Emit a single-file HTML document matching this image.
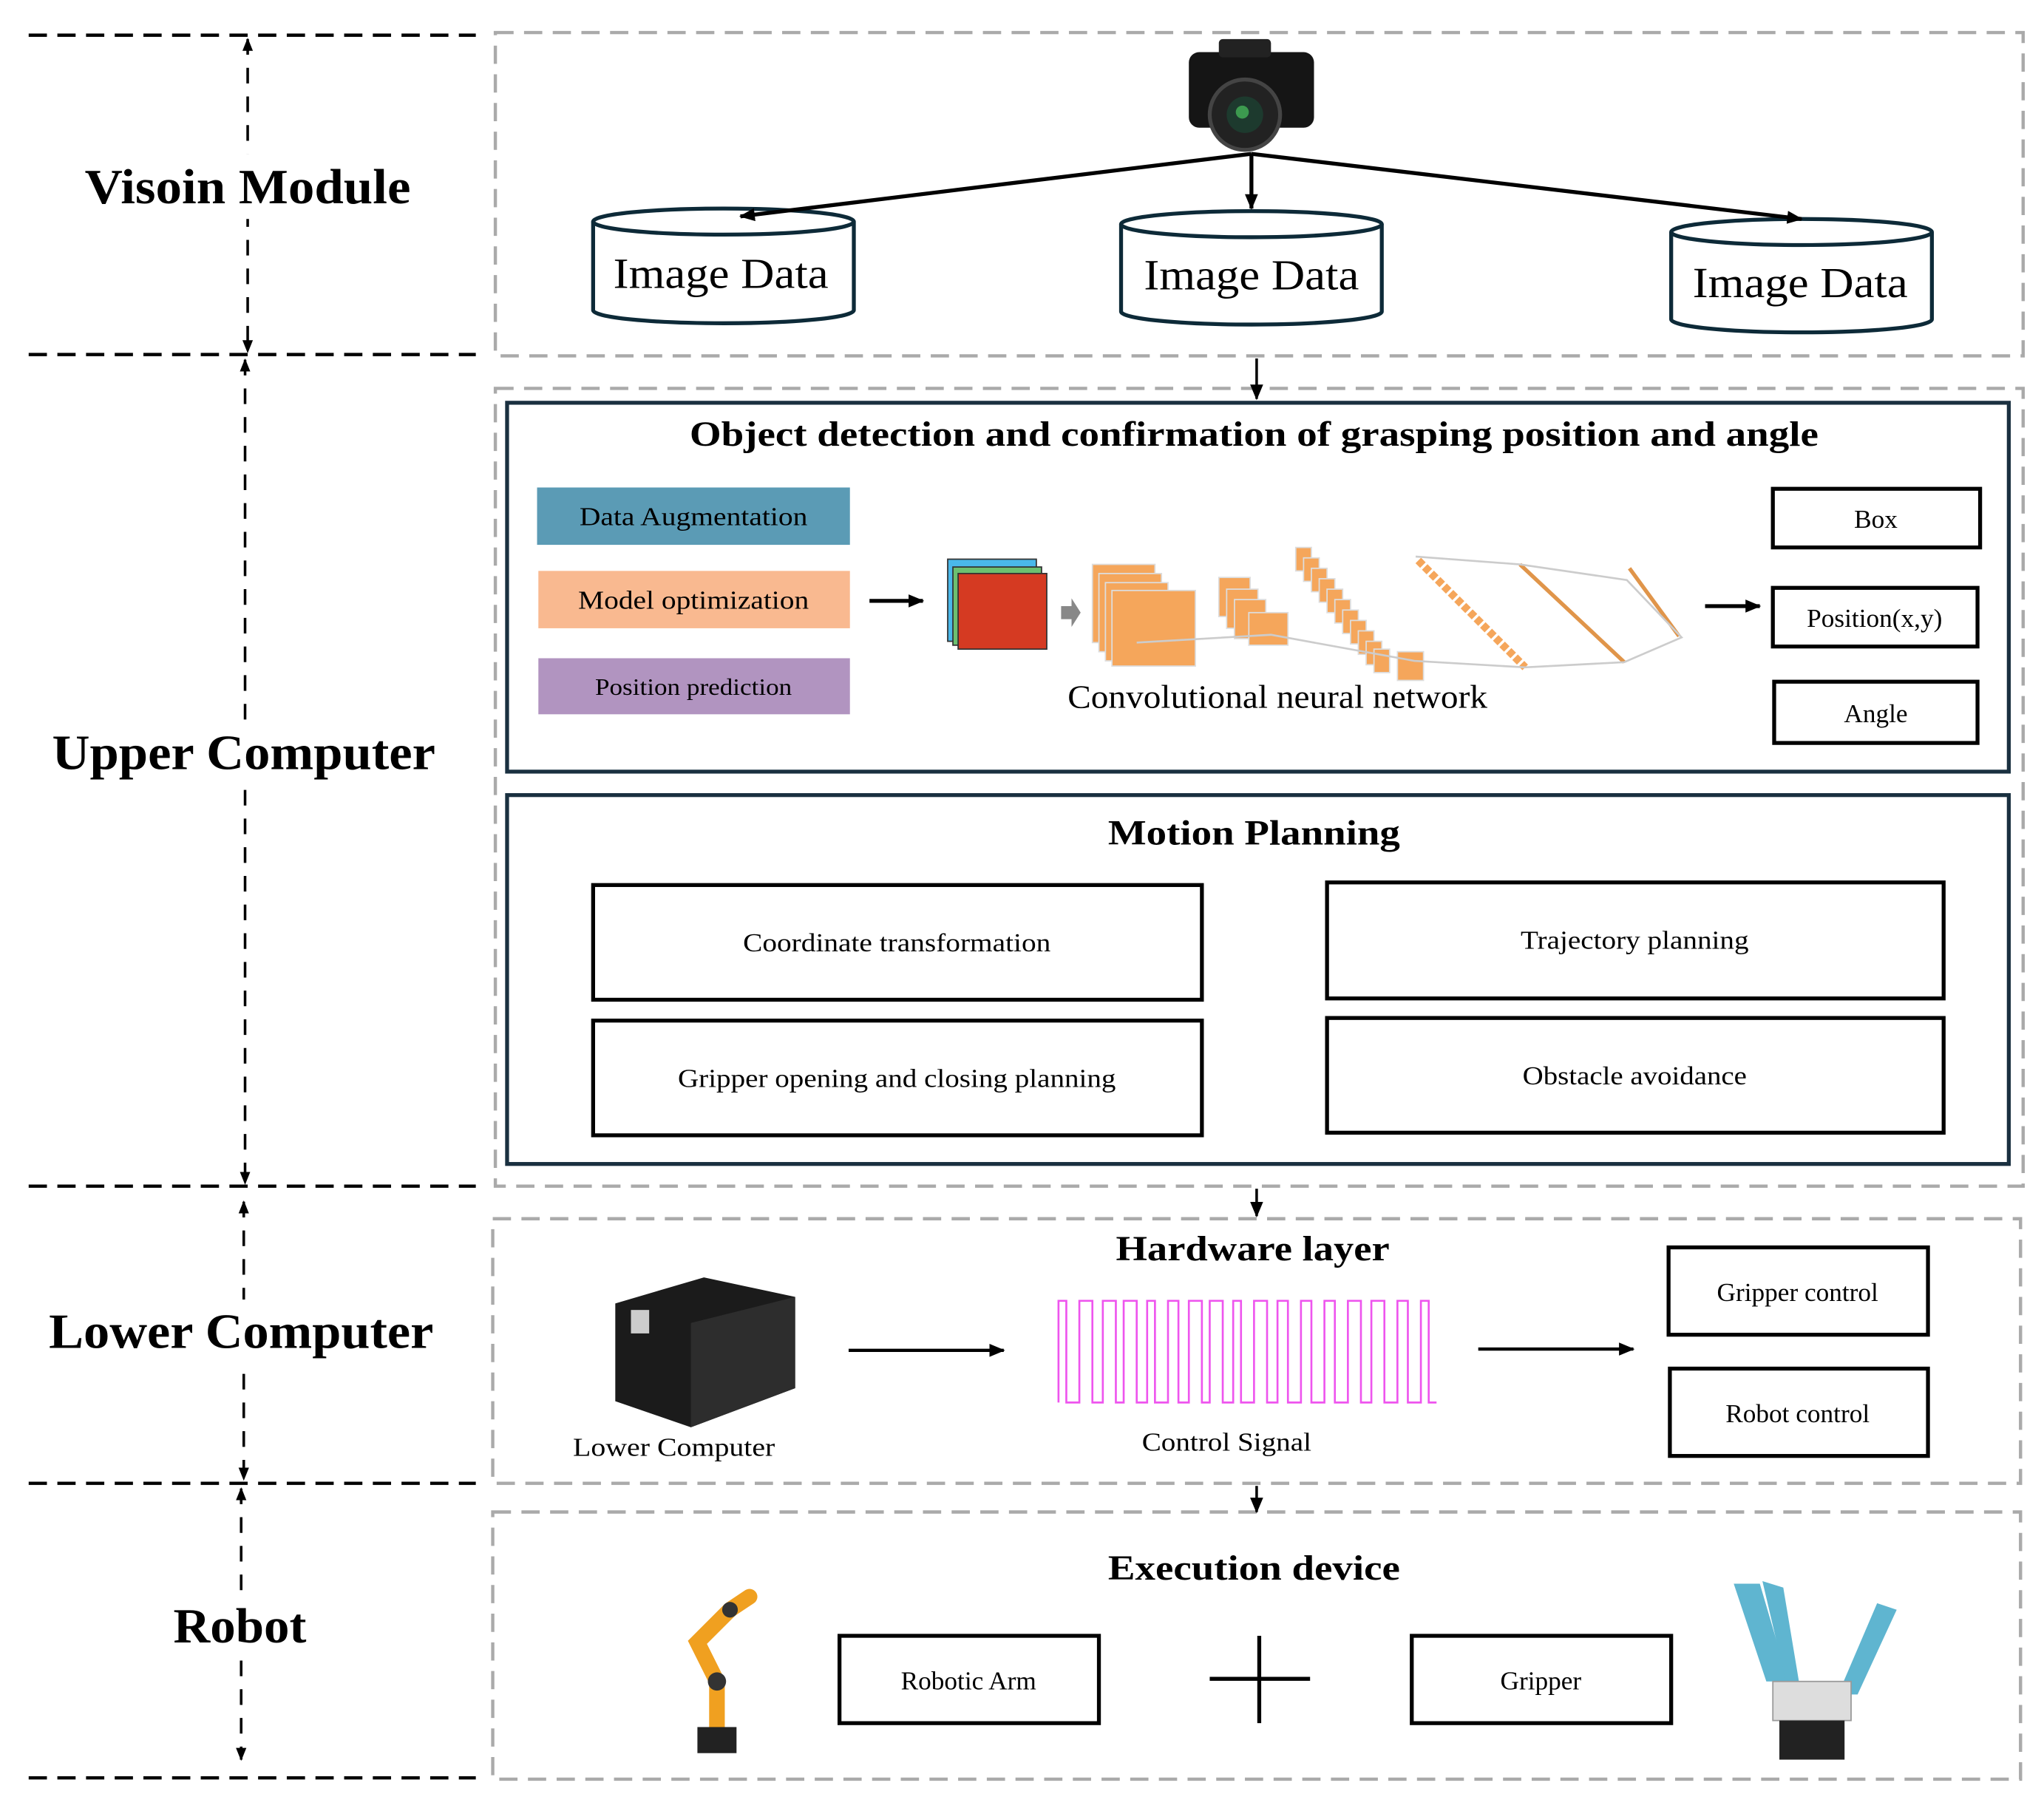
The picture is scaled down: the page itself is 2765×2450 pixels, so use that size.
<!DOCTYPE html>
<html><head><meta charset="utf-8"><style>html,body{margin:0;padding:0;background:#fff}svg{display:block}</style></head>
<body>
<svg width="2765" height="2450" viewBox="0 0 1568 1389.4" preserveAspectRatio="none" xmlns="http://www.w3.org/2000/svg" font-family="Liberation Serif, serif">
<defs>
<marker id="a" markerWidth="10" markerHeight="10" refX="9" refY="5" orient="auto-start-reverse" markerUnits="userSpaceOnUse"><path d="M0,1 L10,5 L0,9 z" fill="#000"/></marker>
<marker id="b" markerWidth="12" markerHeight="12" refX="11" refY="6" orient="auto" markerUnits="userSpaceOnUse"><path d="M0,1 L12,6 L0,11 z" fill="#000"/></marker>
</defs>
<g stroke="#000" stroke-width="2.5" stroke-dasharray="14,8">
<line x1="22" y1="27" x2="365" y2="27"/><line x1="22" y1="272" x2="365" y2="272"/>
<line x1="22" y1="910" x2="365" y2="910"/><line x1="22" y1="1138" x2="365" y2="1138"/>
<line x1="22" y1="1364" x2="365" y2="1364"/>
</g>
<g stroke="#000" stroke-width="2" stroke-dasharray="12,10" marker-start="url(#a)" marker-end="url(#a)">
<line x1="190" y1="30" x2="190" y2="270"/>
<line x1="188" y1="276" x2="188" y2="908"/>
<line x1="187" y1="922" x2="187" y2="1135"/>
<line x1="185" y1="1142" x2="185" y2="1350"/>
</g>
<g fill="#fff">
<rect x="60" y="118" width="260" height="50"/>
<rect x="36" y="553" width="302" height="50"/>
<rect x="34" y="997" width="302" height="50"/>
<rect x="128" y="1223" width="112" height="50"/>
</g>
<g font-weight="bold" font-size="38" text-anchor="middle">
<text x="190" y="156" textLength="250" lengthAdjust="spacingAndGlyphs">Visoin Module</text>
<text x="187" y="590" textLength="294" lengthAdjust="spacingAndGlyphs">Upper Computer</text>
<text x="185" y="1034" textLength="295" lengthAdjust="spacingAndGlyphs">Lower Computer</text>
<text x="184" y="1260" textLength="102" lengthAdjust="spacingAndGlyphs">Robot</text>
</g>
<g fill="none" stroke="#aaa" stroke-width="2.5" stroke-dasharray="14,8">
<rect x="380" y="25" width="1172" height="248"/>
<rect x="380" y="298" width="1172" height="612"/>
<rect x="378" y="935" width="1172" height="203"/>
<rect x="378" y="1160" width="1172" height="205"/>
</g>
<g stroke="#000" stroke-width="2" marker-end="url(#b)">
<line x1="964" y1="275" x2="964" y2="306"/>
<line x1="964" y1="912" x2="964" y2="933"/>
<line x1="964" y1="1140" x2="964" y2="1160"/>
</g>
<g>
<rect x="912" y="40" width="96" height="58" rx="8" fill="#151515"/>
<rect x="935" y="30" width="40" height="14" rx="3" fill="#222"/>
<circle cx="955" cy="88" r="27" fill="#222" stroke="#444" stroke-width="3"/>
<circle cx="955" cy="88" r="14" fill="#1d3a2e"/>
<circle cx="953" cy="86" r="5" fill="#3c9a4f"/>
</g>
<g fill="#fff" stroke="#0d2a38" stroke-width="3">
<path d="M455,170 L455,238 A100,10 0 0 0 655,238 L655,170"/><ellipse cx="555" cy="170" rx="100" ry="10"/>
<path d="M860,172 L860,239 A100,10 0 0 0 1060,239 L1060,172"/><ellipse cx="960" cy="172" rx="100" ry="10"/>
<path d="M1282,178 L1282,245 A100,10 0 0 0 1482,245 L1482,178"/><ellipse cx="1382" cy="178" rx="100" ry="10"/>
</g>
<g stroke="#000" stroke-width="3" marker-end="url(#b)">
<line x1="960" y1="118" x2="568" y2="166"/>
<line x1="960" y1="118" x2="960" y2="160"/>
<line x1="960" y1="118" x2="1382" y2="168"/>
</g>
<g font-size="33" text-anchor="middle">
<text x="553" y="221" textLength="165" lengthAdjust="spacingAndGlyphs">Image Data</text><text x="960" y="222" textLength="165" lengthAdjust="spacingAndGlyphs">Image Data</text><text x="1381" y="228" textLength="165" lengthAdjust="spacingAndGlyphs">Image Data</text>
</g>
<rect x="389" y="309" width="1152" height="283" fill="none" stroke="#1a3040" stroke-width="3"/>
<text x="962" y="342" font-size="27" font-weight="bold" text-anchor="middle" textLength="866" lengthAdjust="spacingAndGlyphs">Object detection and confirmation of grasping position and angle</text>
<rect x="412" y="374" width="240" height="44" fill="#5b9bb5"/>
<rect x="413" y="438" width="239" height="44" fill="#f9b990"/>
<rect x="413" y="505" width="239" height="43" fill="#b194c0"/>
<g font-size="20" text-anchor="middle">
<text x="532" y="403" textLength="175" lengthAdjust="spacingAndGlyphs">Data Augmentation</text>
<text x="532" y="467" textLength="177" lengthAdjust="spacingAndGlyphs">Model optimization</text>
<text x="532" y="533" font-size="18" textLength="151" lengthAdjust="spacingAndGlyphs">Position prediction</text>
</g>
<g stroke="#000" stroke-width="3" marker-end="url(#b)">
<line x1="667" y1="461" x2="708" y2="461"/>
<line x1="1308" y1="465" x2="1350" y2="465"/>
</g>
<rect x="727" y="429" width="68" height="63" fill="#4ab8ea" stroke="#333" stroke-width="1"/>
<rect x="731" y="435" width="68" height="60" fill="#6cc070" stroke="#333" stroke-width="1"/>
<rect x="735" y="440" width="68" height="58" fill="#d53a22" stroke="#333" stroke-width="1"/>
<path d="M814,465 l8,0 0,-6 7,11 -7,11 0,-6 -8,0z" fill="#888"/>
<g fill="#f5a65b" stroke="#ddd" stroke-width="1">
<rect x="838" y="433" width="48" height="60"/><rect x="843" y="440" width="48" height="60"/><rect x="848" y="447" width="48" height="60"/><rect x="853" y="453" width="64" height="58"/>
<rect x="935" y="443" width="24" height="30"/><rect x="941" y="452" width="24" height="30"/><rect x="947" y="460" width="24" height="30"/><rect x="958" y="470" width="30" height="25"/>
</g>
<g fill="#f5a65b" stroke="#ddd" stroke-width="1">
<rect x="994" y="420" width="12" height="18"/><rect x="1000" y="428" width="12" height="18"/><rect x="1006" y="436" width="12" height="18"/><rect x="1012" y="444" width="12" height="18"/><rect x="1018" y="452" width="12" height="18"/><rect x="1024" y="460" width="12" height="18"/><rect x="1030" y="468" width="12" height="18"/><rect x="1036" y="476" width="12" height="18"/><rect x="1042" y="484" width="12" height="18"/><rect x="1048" y="492" width="12" height="18"/><rect x="1054" y="498" width="12" height="18"/><rect x="1072" y="500" width="20" height="22"/>
</g>
<line x1="1088" y1="430" x2="1170" y2="512" stroke="#f5a65b" stroke-width="6" stroke-dasharray="5,2"/>
<line x1="1166" y1="433" x2="1246" y2="508" stroke="#e0954a" stroke-width="3"/>
<line x1="1250" y1="436" x2="1288" y2="488" stroke="#e0954a" stroke-width="3"/>
<g stroke="#ccc" stroke-width="1.5" fill="none">
<path d="M872,493 L975,487 L1085,507 L1170,512 L1246,508 L1290,489 L1248,445 L1166,433 L1086,427"/>
</g>
<text x="980" y="543" font-size="25" text-anchor="middle" textLength="322" lengthAdjust="spacingAndGlyphs">Convolutional neural network</text>
<g fill="#fff" stroke="#000" stroke-width="3">
<rect x="1360" y="375" width="159" height="45"/><rect x="1360" y="451" width="157" height="45"/><rect x="1361" y="523" width="156" height="47"/>
</g>
<g font-size="20" text-anchor="middle">
<text x="1439" y="405">Box</text><text x="1438" y="481">Position(x,y)</text><text x="1439" y="554">Angle</text>
</g>
<rect x="389" y="610" width="1152" height="283" fill="none" stroke="#1a3040" stroke-width="3"/>
<text x="962" y="648" font-size="27" font-weight="bold" text-anchor="middle" textLength="224" lengthAdjust="spacingAndGlyphs">Motion Planning</text>
<g fill="#fff" stroke="#000" stroke-width="3">
<rect x="455" y="679" width="467" height="88"/><rect x="1018" y="677" width="473" height="89"/>
<rect x="455" y="783" width="467" height="88"/><rect x="1018" y="781" width="473" height="88"/>
</g>
<g font-size="20" text-anchor="middle">
<text x="688" y="730" textLength="236" lengthAdjust="spacingAndGlyphs">Coordinate transformation</text><text x="1254" y="728" textLength="175" lengthAdjust="spacingAndGlyphs">Trajectory planning</text>
<text x="688" y="834" textLength="336" lengthAdjust="spacingAndGlyphs">Gripper opening and closing planning</text><text x="1254" y="832" textLength="172" lengthAdjust="spacingAndGlyphs">Obstacle avoidance</text>
</g>
<text x="961" y="967" font-size="27" font-weight="bold" text-anchor="middle" textLength="210" lengthAdjust="spacingAndGlyphs">Hardware  layer</text>
<path d="M472,1000 L540,980 L610,995 L610,1065 L530,1095 L472,1075 Z" fill="#1b1b1b"/>
<path d="M530,1015 L610,995 L610,1065 L530,1095 Z" fill="#2d2d2d"/>
<rect x="484" y="1005" width="14" height="18" fill="#ccc"/>
<text x="517" y="1117" font-size="20" text-anchor="middle" textLength="155" lengthAdjust="spacingAndGlyphs">Lower Computer</text>
<g stroke="#000" stroke-width="2.5" marker-end="url(#b)">
<line x1="651" y1="1036" x2="770" y2="1036"/><line x1="1134" y1="1035" x2="1253" y2="1035"/>
</g>
<path d="M812,1076 L812,998 L818,998 L818,1076 L828,1076 L828,998 L838,998 L838,1076 L846,1076 L846,998 L856,998 L856,1076 L862,1076 L862,998 L872,998 L872,1076 L880,1076 L880,998 L886,998 L886,1076 L896,1076 L896,998 L904,998 L904,1076 L912,1076 L912,998 L922,998 L922,1076 L928,1076 L928,998 L938,998 L938,1076 L946,1076 L946,998 L952,998 L952,1076 L962,1076 L962,998 L972,998 L972,1076 L980,1076 L980,998 L988,998 L988,1076 L998,1076 L998,998 L1006,998 L1006,1076 L1016,1076 L1016,998 L1024,998 L1024,1076 L1034,1076 L1034,998 L1044,998 L1044,1076 L1052,1076 L1052,998 L1062,998 L1062,1076 L1072,1076 L1072,998 L1080,998 L1080,1076 L1090,1076 L1090,998 L1096,998 L1096,1076 L1102,1076" fill="none" stroke="#ee55ee" stroke-width="1.5"/>
<text x="941" y="1113" font-size="20" text-anchor="middle" textLength="130" lengthAdjust="spacingAndGlyphs">Control Signal</text>
<g fill="#fff" stroke="#000" stroke-width="3">
<rect x="1280" y="957" width="199" height="67"/><rect x="1281" y="1050" width="198" height="67"/>
</g>
<g font-size="20" text-anchor="middle"><text x="1379" y="998">Gripper control</text><text x="1379" y="1091">Robot control</text></g>
<text x="962" y="1212" font-size="27" font-weight="bold" text-anchor="middle" textLength="224" lengthAdjust="spacingAndGlyphs">Execution device</text>
<g stroke="#f0a020" stroke-width="12" stroke-linecap="round" fill="none">
<path d="M550,1330 L550,1290 L535,1260 L560,1235 L575,1225"/>
</g>
<rect x="535" y="1325" width="30" height="20" fill="#222"/>
<circle cx="550" cy="1290" r="7" fill="#333"/><circle cx="560" cy="1235" r="6" fill="#333"/>
<g fill="#fff" stroke="#000" stroke-width="3">
<rect x="644" y="1255" width="199" height="67"/><rect x="1083" y="1255" width="199" height="67"/>
</g>
<g font-size="20" text-anchor="middle"><text x="743" y="1296">Robotic Arm</text><text x="1182" y="1296">Gripper</text></g>
<g stroke="#000" stroke-width="3"><line x1="928" y1="1288" x2="1005" y2="1288"/><line x1="966" y1="1255" x2="966" y2="1322"/></g>
<g fill="#5fb5d0">
<path d="M1330,1215 L1350,1215 L1372,1290 L1355,1290 Z"/>
<path d="M1352,1213 L1368,1218 L1380,1290 L1370,1290 Z"/>
<path d="M1455,1235 L1440,1230 L1410,1300 L1425,1300 Z"/>
</g>
<rect x="1360" y="1290" width="60" height="30" fill="#ddd" stroke="#999"/>
<rect x="1365" y="1320" width="50" height="30" fill="#222"/>
</svg>
</body></html>
